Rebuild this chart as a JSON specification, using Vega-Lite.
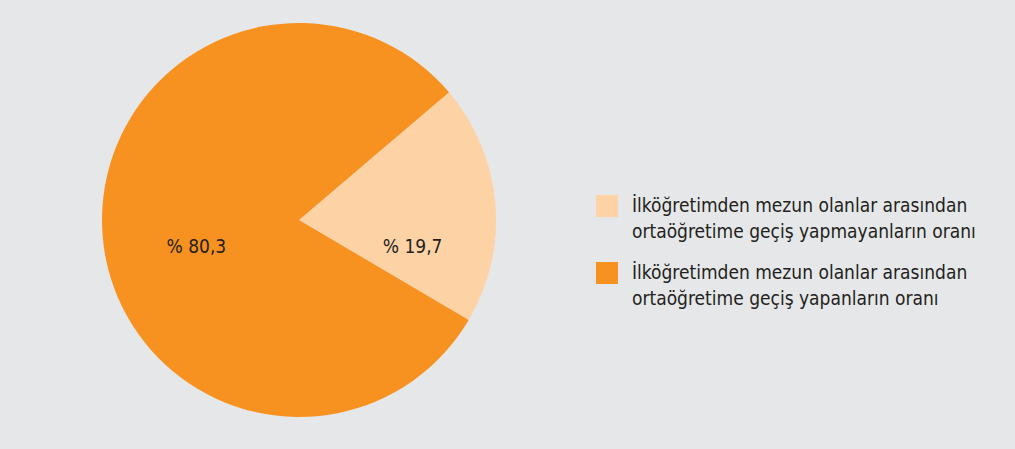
{
  "$schema": "https://vega.github.io/schema/vega-lite/v6.json",
  "autosize": "none",
  "width": 586,
  "height": 440,
  "padding": {"left": 6, "top": 0, "right": 423, "bottom": 9},
  "background": "#e6e7e8",
  "config": {"view": {"stroke": null}, "font": "DejaVu Sans Condensed, Roboto"},
  "data": {"values": [
    {"group": "İlköğretimden mezun olanlar arasından|ortaöğretime geçiş yapmayanların oranı", "value": 19.7, "label": "% 19,7", "order": 1},
    {"group": "İlköğretimden mezun olanlar arasından|ortaöğretime geçiş yapanların oranı", "value": 80.3, "label": "% 80,3", "order": 2}
  ]},
  "encoding": {
    "theta": {"field": "value", "type": "quantitative", "stack": true, "scale": {"range": [0.866, 7.149]}},
    "order": {"field": "order", "type": "quantitative"},
    "color": {
      "field": "group", "type": "nominal",
      "scale": {"domain": ["İlköğretimden mezun olanlar arasından|ortaöğretime geçiş yapmayanların oranı", "İlköğretimden mezun olanlar arasından|ortaöğretime geçiş yapanların oranı"], "range": ["#fdd3a5", "#f7911f"]},
      "legend": {
        "title": null, "orient": "none", "legendX": 590, "legendY": 195,
        "symbolType": "square", "symbolSize": 484, "symbolStrokeWidth": 0, "symbolOpacity": 1,
        "labelExpr": "split(datum.label, '|')", "labelFontSize": 19, "labelColor": "#231f20",
        "labelLimit": 500, "rowPadding": 20, "labelOffset": 14, "padding": 0, "labelBaseline": "middle",
        "labelFont": "DejaVu Sans Condensed, Roboto",
        "encode": {"labels": {"update": {"lineHeight": {"value": 26}}}}
      }
    }
  },
  "layer": [
    {"mark": {"type": "arc", "outerRadius": 197}},
    {"mark": {"type": "text", "fontSize": 19, "color": "#231f20",
              "radius": {"expr": "datum.order == 1 ? 114 : 103"},
              "dy": {"expr": "datum.order == 1 ? 37 : 18"}},
     "encoding": {"text": {"field": "label"}, "color": {"value": "#231f20"}}}
  ]
}
